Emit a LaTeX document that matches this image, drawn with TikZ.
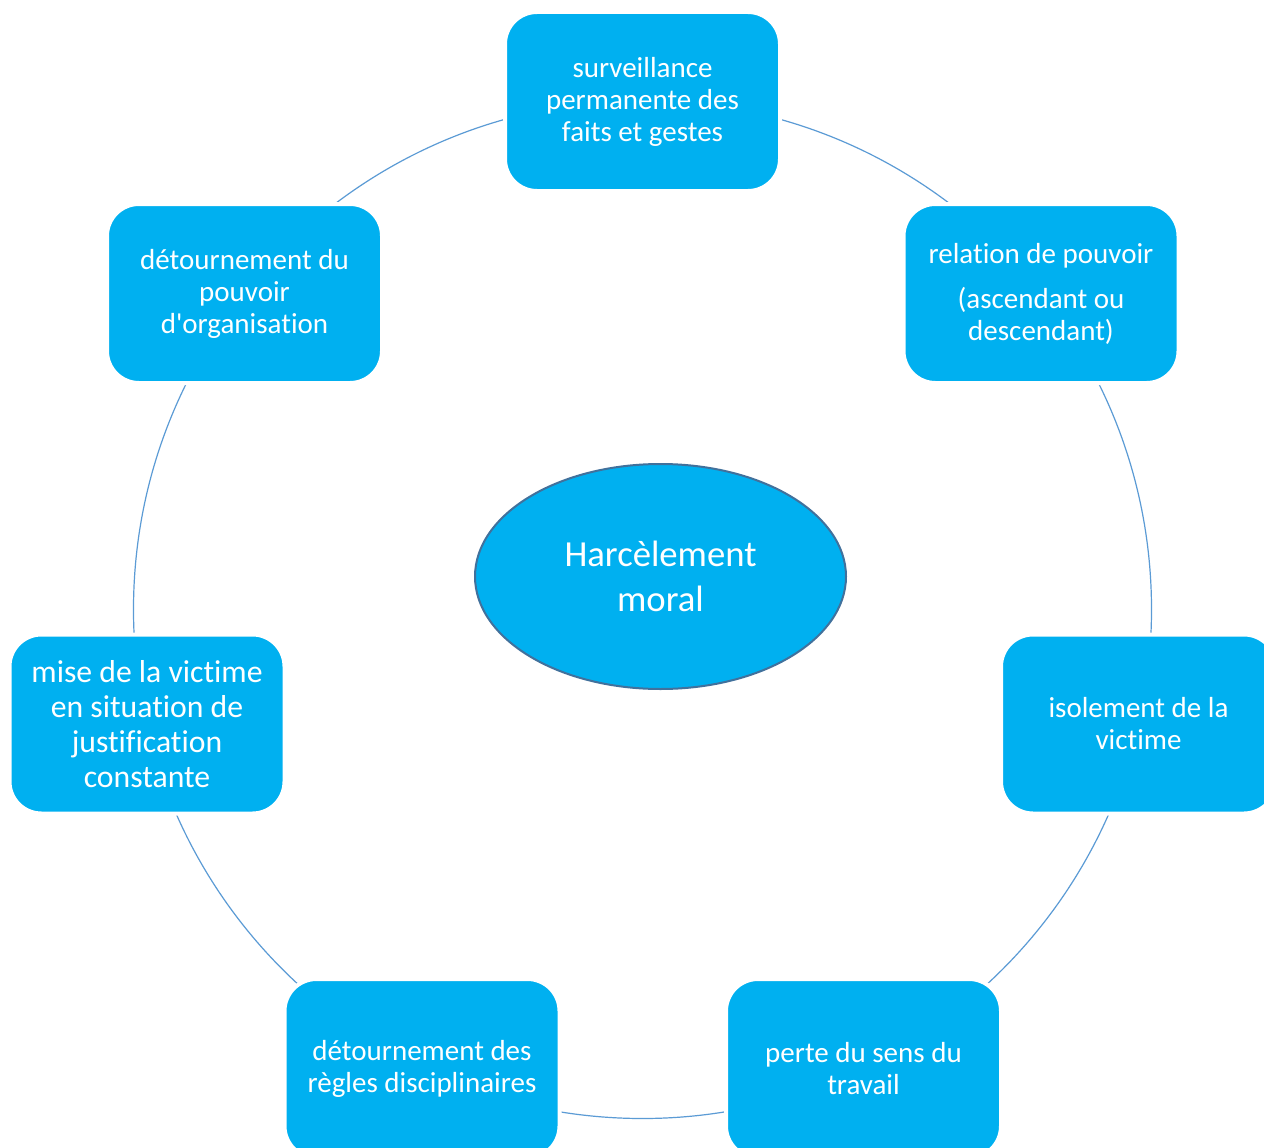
\documentclass[tikz,border=0pt]{standalone}
\usepackage{fontspec}
\setmainfont{Carlito}[Ligatures={TeXOff,NoCommon}]
\usetikzlibrary{shapes.geometric}
\definecolor{boxcyan}{RGB}{0,176,240}
\definecolor{ringblue}{RGB}{91,155,213}
\definecolor{ellborder}{RGB}{65,113,156}
\tikzset{
  stepbox/.style={rectangle, rounded corners=32pt, fill=boxcyan, draw=white,
    line width=4pt, minimum width=275pt, minimum height=179pt, inner sep=0pt,
    align=center, text=white, font=\fontsize{29}{32}\selectfont},
  bigtext/.style={font=\fontsize{31.7}{35}\selectfont},
  ring/.style={draw=ringblue, line width=1.2pt},
  hub/.style={ellipse, fill=boxcyan, draw=ellborder, line width=2pt,
    minimum width=371pt, minimum height=225pt, inner sep=0pt, align=center,
    text=white, font=\fontsize{36.7}{45}\selectfont}
}
\begin{document}
\begin{tikzpicture}[x=1pt,y=-1pt]
\clip (0,0) rectangle (1264,1148);
\fill[white] (0,0) rectangle (1264,1148);
\coordinate (c) at (642.5,609.5);
\draw[ring] (c) circle[radius=509pt];
\node[stepbox] (top) at (642.5,101.5) {surveillance\\permanente des\\faits et gestes};
\node[stepbox] (tr) at (1041,293.5) {relation de pouvoir\\[13pt](ascendant ou\\descendant)};
\node[stepbox] (r) at (1138.5,724) {isolement de la\\victime};
\node[stepbox] (br) at (863.5,1068.5) {perte du sens du\\travail};
\node[stepbox] (bl) at (422,1068.5) {détournement des\\règles disciplinaires};
\node[stepbox,bigtext] (l) at (147,724) {mise de la victime\\en situation de\\justification\\constante};
\node[stepbox] (tl) at (244.5,293.5) {détournement du\\pouvoir\\d'organisation};
\node[hub] (hub) at (660.5,576.5) {Harcèlement\\moral};
\end{tikzpicture}
\end{document}
